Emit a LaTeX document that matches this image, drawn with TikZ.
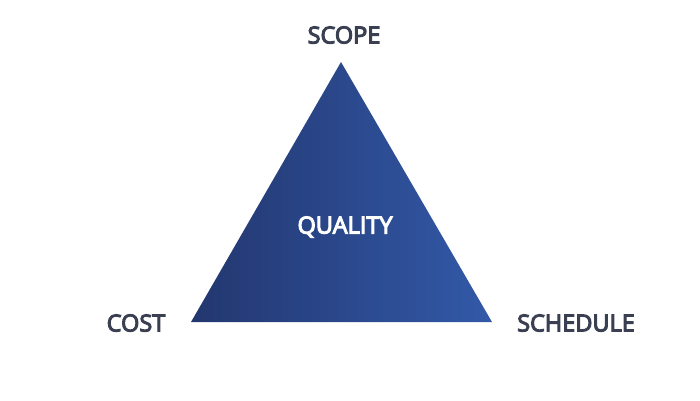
\documentclass[tikz,border=0pt]{standalone}
\usepackage{fontspec}
\setmainfont{Open Sans}
\newfontfamily\labelfont[FakeBold=4.5]{Open Sans}
\usepackage{xcolor}
\usetikzlibrary{positioning}
\definecolor{navydark}{HTML}{23376F}
\definecolor{navylight}{HTML}{3259A8}
\definecolor{labelgray}{HTML}{3A4052}

\tikzset{
  corner/.style={font=\fontsize{23.5}{27}\labelfont, text=labelgray, inner sep=0pt},
}

\begin{document}
\begin{tikzpicture}[x=1pt, y=-1pt]
  \useasboundingbox (0,0) rectangle (700,400);

  % corners of the triangle
  \coordinate (top) at (341,62);
  \coordinate (left) at (191,322);
  \coordinate (right) at (492,322);

  % triangle with gradient
  \shade[left color=navydark, right color=navylight] (top) -- (right) -- (left) -- cycle;

  % labels
  \node[corner] (scope) at (344,35) {SCOPE};
  \node[corner] (cost) at (136,323) {COST};
  \node[corner] (schedule) at (576,323) {SCHEDULE};
  \node[corner, text=white] (quality) at (345,227) {QUALITY};
\end{tikzpicture}
\end{document}
